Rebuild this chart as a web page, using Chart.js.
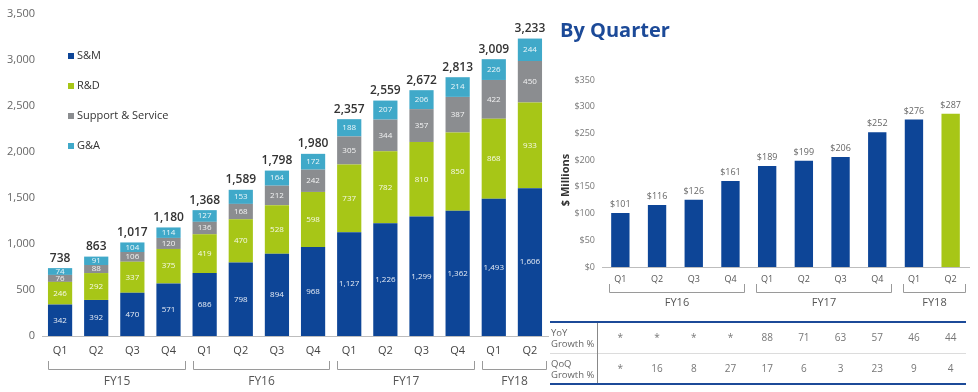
<!DOCTYPE html>
<html>
<head>
<meta charset="utf-8">
<script src="https://cdn.jsdelivr.net/npm/chart.js@4.4.1/dist/chart.umd.min.js"></script>
<style>
  html, body { margin: 0; padding: 0; background: #fff; }
  body { width: 978px; height: 392px; position: relative; overflow: hidden; font-family: "Open Sans", sans-serif; }
  #leftWrap { position: absolute; left: 0; top: 0; width: 550px; height: 392px; }
  #rightWrap { position: absolute; left: 540px; top: 0; width: 438px; height: 392px; }
  #title { position: absolute; left: 560px; top: 16px; margin: 0; font-size: 20px; font-weight: 700; color: #1c4a98; }
</style>
</head>
<body>
<div id="leftWrap"><canvas id="expenseChart" width="550" height="392"></canvas></div>
<div id="rightWrap"><canvas id="quarterChart" width="438" height="392"></canvas></div>
<h2 id="title">By Quarter</h2>
<script>
// left chart data
const quarters = ['Q1', 'Q2', 'Q3', 'Q4', 'Q1', 'Q2', 'Q3', 'Q4', 'Q1', 'Q2', 'Q3', 'Q4', 'Q1', 'Q2'];
const fiscalYears = [['FY15', 0, 3], ['FY16', 4, 7], ['FY17', 8, 11], ['FY18', 12, 13]];
const smValues = [342, 392, 470, 571, 686, 798, 894, 968, 1127, 1226, 1299, 1362, 1493, 1606];
const rdValues = [246, 292, 337, 375, 419, 470, 528, 598, 737, 782, 810, 850, 868, 933];
const supportValues = [76, 88, 106, 120, 136, 168, 212, 242, 305, 344, 357, 387, 422, 450];
const gaValues = [74, 91, 104, 114, 127, 153, 164, 172, 188, 207, 206, 214, 226, 244];
const totals = [738, 863, 1017, 1180, 1368, 1589, 1798, 1980, 2357, 2559, 2672, 2813, 3009, 3233];
const leftTicks = [0, 500, 1000, 1500, 2000, 2500, 3000, 3500];

// right chart data
const rightQuarters = ['Q1', 'Q2', 'Q3', 'Q4', 'Q1', 'Q2', 'Q3', 'Q4', 'Q1', 'Q2'];
const rightYears = [['FY16', 0, 3], ['FY17', 4, 7], ['FY18', 8, 9]];
const quarterValues = [101, 116, 126, 161, 189, 199, 206, 252, 276, 287];
const yoyGrowth = ['*', '*', '*', '*', '88', '71', '63', '57', '46', '44'];
const qoqGrowth = ['*', '16', '8', '27', '17', '6', '3', '23', '9', '4'];

const BLUE = '#0d4597';
const GREEN = '#a7c617';
const GRAY = '#8b8d90';
const TEAL = '#40a9c9';
const FONT = '"Open Sans", sans-serif';

function drawBrackets(chart, groups, y, leftOff, rightOff, labelY, fontSize) {
    const ctx = chart.ctx;
    const x = chart.scales.x;
    ctx.save();
    ctx.strokeStyle = '#9a9a9a';
    ctx.lineWidth = 1;
    ctx.fillStyle = '#555';
    ctx.font = fontSize + 'px ' + FONT;
    ctx.textAlign = 'center';
    ctx.textBaseline = 'middle';
    groups.forEach(function (g) {
        const x1 = Math.round(x.getPixelForValue(g[1]) - leftOff) + 0.5;
        const x2 = Math.round(x.getPixelForValue(g[2]) + rightOff) + 0.5;
        ctx.beginPath();
        ctx.moveTo(x1, y - 8);
        ctx.lineTo(x1, y + 0.5);
        ctx.lineTo(x2, y + 0.5);
        ctx.lineTo(x2, y - 8);
        ctx.stroke();
        ctx.fillText(g[0], (x1 + x2) / 2, labelY);
    });
    ctx.restore();
}

const leftExtras = {
    id: 'leftExtras',
    afterDatasetsDraw(chart) {
        const ctx = chart.ctx;
        ctx.save();
        // segment values
        ctx.font = '8px ' + FONT;
        ctx.fillStyle = 'rgba(255,255,255,0.9)';
        ctx.textAlign = 'center';
        ctx.textBaseline = 'middle';
        chart.data.datasets.forEach(function (ds, di) {
            chart.getDatasetMeta(di).data.forEach(function (bar, i) {
                ctx.fillText(ds.data[i].toLocaleString('en-US'), bar.x, (bar.y + bar.base) / 2);
            });
        });
        // totals above bars
        ctx.font = '600 12px ' + FONT;
        ctx.fillStyle = '#333';
        ctx.textBaseline = 'bottom';
        const top = chart.getDatasetMeta(chart.data.datasets.length - 1).data;
        totals.forEach(function (t, i) {
            ctx.fillText(t.toLocaleString('en-US'), top[i].x, top[i].y - 4);
        });
        // legend
        ctx.font = '11px ' + FONT;
        ctx.textAlign = 'left';
        ctx.textBaseline = 'middle';
        chart.data.datasets.forEach(function (ds, k) {
            const ly = 56 + k * 30;
            ctx.fillStyle = ds.backgroundColor;
            ctx.fillRect(68, ly - 3, 6, 6);
            ctx.fillStyle = '#333';
            ctx.fillText(ds.label, 77, ly);
        });
        ctx.restore();
        drawBrackets(chart, fiscalYears, 369, 12, 16, 382, 12);
    }
};

new Chart(document.getElementById('expenseChart').getContext('2d'), {
    type: 'bar',
    data: {
        labels: quarters,
        datasets: [
            { label: 'S&M', data: smValues, backgroundColor: BLUE },
            { label: 'R&D', data: rdValues, backgroundColor: GREEN },
            { label: 'Support & Service', data: supportValues, backgroundColor: GRAY },
            { label: 'G&A', data: gaValues, backgroundColor: TEAL }
        ]
    },
    options: {
        responsive: false,
        animation: false,
        layout: { padding: { top: 14, right: 2, bottom: 36, left: 0 } },
        plugins: { legend: { display: false }, tooltip: { enabled: false } },
        datasets: { bar: { categoryPercentage: 1, barPercentage: 0.67 } },
        scales: {
            x: {
                stacked: true,
                grid: { display: false, drawTicks: false },
                border: { color: '#bdbdbd' },
                ticks: { color: '#444', font: { family: FONT, size: 11 }, padding: 8 },
                afterFit(scale) { scale.height = 20; }
            },
            y: {
                stacked: true,
                min: 0,
                max: 3500,
                afterBuildTicks(scale) { scale.ticks = leftTicks.map(function (v) { return { value: v }; }); },
                grid: { display: false, drawTicks: false },
                border: { display: false },
                ticks: {
                    color: '#666',
                    font: { family: FONT, size: 11 },
                    padding: 7,
                    callback: function (v) { return v.toLocaleString('en-US'); }
                },
                afterFit(scale) { scale.width = 42; }
            }
        }
    },
    plugins: [leftExtras]
});

const rightExtras = {
    id: 'rightExtras',
    afterDatasetsDraw(chart) {
        const ctx = chart.ctx;
        const x = chart.scales.x;
        ctx.save();
        // value labels
        ctx.font = '9px ' + FONT;
        ctx.fillStyle = '#666';
        ctx.textAlign = 'center';
        ctx.textBaseline = 'bottom';
        chart.getDatasetMeta(0).data.forEach(function (bar, i) {
            ctx.fillText('$' + quarterValues[i], bar.x, bar.y - 4);
        });
        // axis title
        ctx.save();
        ctx.translate(26, 180);
        ctx.rotate(-Math.PI / 2);
        ctx.font = '700 11px ' + FONT;
        ctx.fillStyle = '#333';
        ctx.textBaseline = 'middle';
        ctx.fillText('$ Millions', 0, 0);
        ctx.restore();
        // growth table
        const left = 10, right = 426;
        ctx.strokeStyle = '#1c4a98';
        ctx.lineWidth = 2;
        ctx.beginPath();
        ctx.moveTo(left, 322); ctx.lineTo(right, 322);
        ctx.moveTo(left, 384); ctx.lineTo(right, 384);
        ctx.stroke();
        ctx.strokeStyle = '#dcdcdc';
        ctx.lineWidth = 1;
        ctx.beginPath();
        ctx.moveTo(left, 353.5); ctx.lineTo(right, 353.5);
        ctx.stroke();
        ctx.strokeStyle = '#888';
        ctx.beginPath();
        ctx.moveTo(57.5, 323); ctx.lineTo(57.5, 383);
        ctx.stroke();
        ctx.font = '9.5px ' + FONT;
        ctx.fillStyle = '#666';
        ctx.textAlign = 'left';
        ctx.textBaseline = 'middle';
        ctx.fillText('YoY', 11, 333);
        ctx.fillText('Growth %', 11, 344);
        ctx.fillText('QoQ', 11, 364);
        ctx.fillText('Growth %', 11, 375);
        ctx.textAlign = 'center';
        ctx.font = '10px ' + FONT;
        ctx.fillStyle = '#777';
        rightQuarters.forEach(function (q, i) {
            const cx = x.getPixelForValue(i);
            ctx.fillText(yoyGrowth[i], cx, 338);
            ctx.fillText(qoqGrowth[i], cx, 369);
        });
        ctx.restore();
        drawBrackets(chart, rightYears, 292, 11, 14, 303, 11);
    }
};

new Chart(document.getElementById('quarterChart').getContext('2d'), {
    type: 'bar',
    data: {
        labels: rightQuarters,
        datasets: [{
            label: 'By Quarter',
            data: quarterValues,
            backgroundColor: quarterValues.map(function (v, i) { return i === quarterValues.length - 1 ? GREEN : BLUE; })
        }]
    },
    options: {
        responsive: false,
        animation: false,
        layout: { padding: { top: 80, right: 9, bottom: 105, left: 0 } },
        plugins: { legend: { display: false }, tooltip: { enabled: false } },
        datasets: { bar: { categoryPercentage: 1, barPercentage: 0.5 } },
        scales: {
            x: {
                grid: { display: false, drawTicks: false },
                border: { color: '#bdbdbd' },
                ticks: { color: '#555', font: { family: FONT, size: 9 }, padding: 7 },
                afterFit(scale) { scale.height = 20; }
            },
            y: {
                min: 0,
                max: 350,
                grid: { display: false, drawTicks: false },
                border: { display: false },
                ticks: {
                    stepSize: 50,
                    color: '#777',
                    font: { family: FONT, size: 9 },
                    padding: 7,
                    callback: function (v) { return '$' + v; }
                },
                afterFit(scale) { scale.width = 62; }
            }
        }
    },
    plugins: [rightExtras]
});
</script>
</body>
</html>
